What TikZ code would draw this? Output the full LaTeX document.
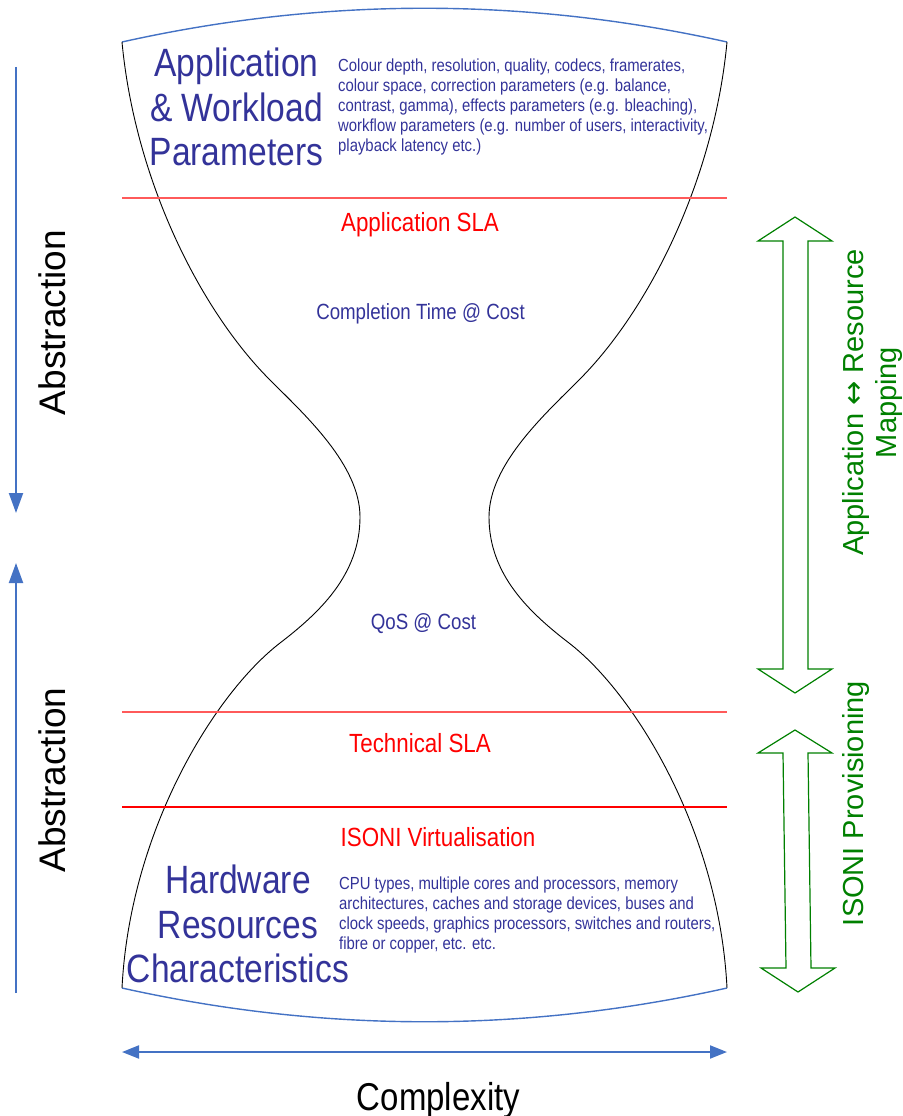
\documentclass[tikz,border=0pt]{standalone}
\usepackage{fontspec}
\setmainfont{Liberation Sans}
\newfontfamily\condfont[FakeStretch=0.85]{Liberation Sans}
\newfontfamily\arrowfnt{DejaVu Sans}
\usetikzlibrary{arrows.meta}
\definecolor{ublue}{RGB}{68,114,196}
\definecolor{tblue}{RGB}{51,51,153}
\definecolor{slared}{RGB}{255,0,0}
\definecolor{linered}{RGB}{255,90,90}
\definecolor{grn}{RGB}{0,128,0}
\begin{document}
\begin{tikzpicture}[x=1pt,y=-1pt,
  bigtxt/.style={font=\condfont\fontsize{39.5}{44.5}\selectfont, text=tblue, align=center, inner sep=0pt},
  smalltxt/.style={font=\condfont\fontsize{17.5}{20}\selectfont, text=tblue, align=left, inner sep=0pt},
  slatxt/.style={font=\condfont\fontsize{26.3}{30}\selectfont, text=slared, inner sep=0pt},
  costtxt/.style={font=\condfont\fontsize{22}{25}\selectfont, text=tblue, inner sep=0pt},
  axistxt/.style={font=\fontsize{37}{44}\selectfont, text=black, inner sep=0pt},
  greentxt/.style={font=\fontsize{29}{33}\selectfont, text=grn, align=center, inner sep=0pt},
  divider/.style={draw=linered, line width=1.4pt},
  divider2/.style={draw=slared, line width=1.2pt},
  side/.style={draw=black, line width=0.9pt},
  rimline/.style={draw=ublue, line width=1.4pt},
  blockarrow/.style={draw=grn, line width=1.2pt, line join=miter},
  axisarrow/.style={draw=ublue, line width=2pt, -{Triangle[width=14pt,length=20pt]}},
  bothtips/.style={draw=ublue, line width=2pt, {Triangle[width=13pt,length=17pt]}-{Triangle[width=13pt,length=17pt]}}
]
\useasboundingbox (0,0) rectangle (902,1116);

% hourglass outline
\draw[rimline] (122,42) .. controls (324,-3) and (525,-3) .. (727,42);
\draw[rimline] (122,988) .. controls (324,1033) and (525,1033) .. (727,988);
\draw[side] (122,42) .. controls (135,180) and (200,310) .. (270,380)
  .. controls (305,415) and (360,465) .. (360,517)
  .. controls (360,575) and (319,613) .. (280,643)
  .. controls (215,693) and (130,830) .. (122,988);
\draw[side] (727,42) .. controls (714,180) and (649,310) .. (579,380)
  .. controls (544,415) and (489,465) .. (489,517)
  .. controls (489,575) and (530,613) .. (569,643)
  .. controls (634,693) and (719,830) .. (727,988);

% dividers
\coordinate (d1l) at (122,198); \coordinate (d1r) at (727,198);
\coordinate (d2l) at (122,712); \coordinate (d2r) at (727,712);
\coordinate (d3l) at (122,807); \coordinate (d3r) at (727,807);
\draw[divider] (d1l) -- (d1r);
\draw[divider] (d2l) -- (d2r);
\draw[divider2] (d3l) -- (d3r);

% texts inside
\node[bigtxt, anchor=north] (appparams) at (236.5,48) {Application\\\& Workload\\Parameters};
\node[smalltxt, anchor=north west] (appdetail) at (338,58.5) {Colour depth, resolution, quality, codecs, framerates,\\colour space, correction parameters (e.g. balance,\\contrast, gamma), effects parameters (e.g. bleaching),\\workflow parameters (e.g. number of users, interactivity,\\playback latency etc.)};
\node[slatxt, anchor=base] (appsla) at (420,231) {Application SLA};
\node[costtxt, anchor=base] (ctc) at (420.5,319) {Completion Time @ Cost};
\node[costtxt, anchor=base] (qos) at (423.5,629) {QoS @ Cost};
\node[slatxt, anchor=base] (techsla) at (420,752) {Technical SLA};
\node[slatxt, anchor=base] (virt) at (438,846) {ISONI Virtualisation};
\node[bigtxt, anchor=north] (hw) at (238,865) {Hardware\\Resources\\Characteristics};
\node[smalltxt, anchor=north west] (hwdetail) at (339,876.5) {CPU types, multiple cores and processors, memory\\architectures, caches and storage devices, buses and\\clock speeds, graphics processors, switches and routers,\\fibre or copper, etc. etc.};

% left axis
\coordinate (a1s) at (16,67); \coordinate (a1e) at (16,513);
\coordinate (a2s) at (16,993); \coordinate (a2e) at (16,563);
\draw[axisarrow] (a1s) -- (a1e);
\draw[axisarrow] (a2s) -- (a2e);
\node[axistxt, rotate=90, anchor=base] (abs1) at (65,322.5) {Abstraction};
\node[axistxt, rotate=90, anchor=base] (abs2) at (65,780) {Abstraction};

% bottom axis
\coordinate (cxl) at (122,1052); \coordinate (cxr) at (727,1052);
\draw[bothtips] (cxl) -- (cxr);
\node[font=\condfont\fontsize{38.8}{44}\selectfont, text=black, anchor=base, inner sep=0pt] (cx) at (438.5,1110) {Complexity};

% green block arrows
\draw[blockarrow] (795,217) -- (832,241) -- (808,241) -- (808,669) -- (832,669) -- (795,693) -- (758,669) -- (783,669) -- (783,241) -- (758,241) -- cycle;
\draw[blockarrow] (795,730) -- (832,753) -- (808,753) -- (811,968) -- (835,968) -- (798,992) -- (761,968) -- (786,968) -- (783,753) -- (758,753) -- cycle;
\node[greentxt, rotate=90, anchor=north] (map) at (842,402.5) {Application {\arrowfnt\fontsize{29}{29}\selectfont ↔} Resource\\Mapping};
\node[greentxt, rotate=90, anchor=base] (prov) at (863,803.5) {ISONI Provisioning};
\end{tikzpicture}
\end{document}
